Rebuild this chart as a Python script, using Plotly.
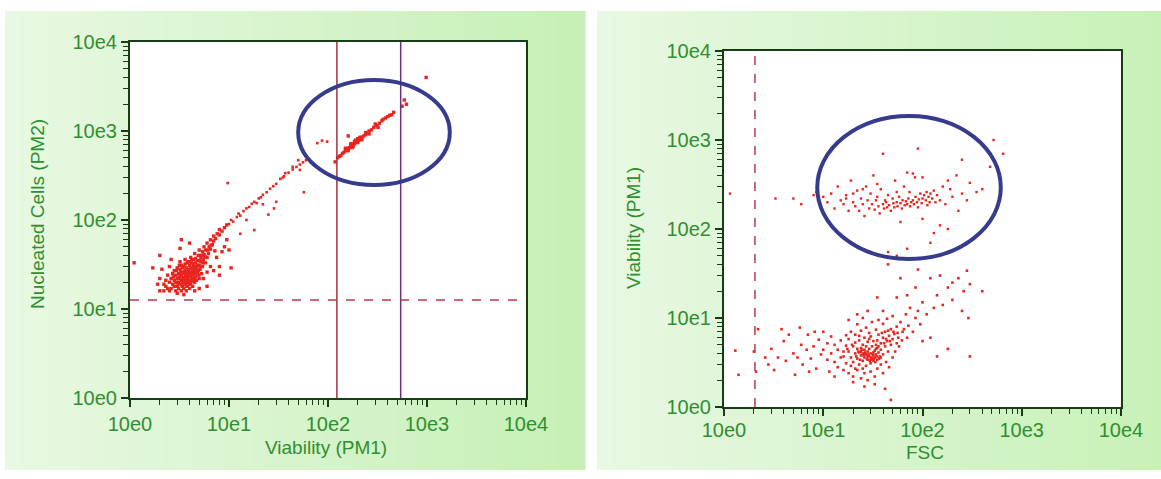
import plotly.graph_objects as go

# ---------------- data ----------------
tick_vals = [1, 10, 100, 1000, 10000]
tick_text = ["10e0", "10e1", "10e2", "10e3", "10e4"]
minor_vals = [m * 10 ** d for d in range(4) for m in range(2, 10)]

# Left panel: Viability (PM1) vs Nucleated Cells (PM2)
left_main = [
    (1.1, 33), (1.9, 19), (2.0, 22), (2.1, 28), (2.2, 16), (2.2, 19), (2.3, 18), (2.3, 21), (2.4, 17), (2.4, 24),
    (2.5, 20), (2.5, 16), (2.6, 17), (2.6, 22), (2.6, 36), (2.7, 19), (2.7, 25), (2.8, 18), (2.8, 21), (2.8, 27),
    (2.9, 16), (2.9, 20), (2.9, 24), (3.0, 15), (3.0, 18), (3.0, 22), (3.0, 29), (3.1, 17), (3.1, 20), (3.1, 25),
    (3.2, 19), (3.2, 22), (3.2, 28), (3.2, 34), (3.3, 16), (3.3, 21), (3.3, 24), (3.3, 31), (3.4, 18), (3.4, 20),
    (3.4, 26), (3.5, 17), (3.5, 22), (3.5, 25), (3.5, 30), (3.6, 19), (3.6, 21), (3.6, 27), (3.6, 36), (3.7, 16),
    (3.7, 20), (3.7, 23), (3.7, 29), (3.8, 18), (3.8, 22), (3.8, 25), (3.8, 33), (3.9, 20), (3.9, 24), (3.9, 28),
    (4.0, 17), (4.0, 21), (4.0, 26), (4.0, 31), (4.1, 19), (4.1, 23), (4.1, 29), (4.1, 38), (4.2, 21), (4.2, 25),
    (4.2, 33), (4.3, 18), (4.3, 22), (4.3, 27), (4.4, 24), (4.4, 30), (4.4, 36), (4.5, 20), (4.5, 26), (4.5, 42),
    (4.6, 23), (4.6, 28), (4.6, 33), (4.7, 21), (4.7, 30), (4.8, 25), (4.8, 35), (4.9, 27), (4.9, 40), (5.0, 22),
    (5.0, 31), (5.0, 46), (5.1, 28), (5.2, 34), (5.2, 38), (5.3, 25), (5.4, 30), (5.4, 44), (5.5, 36), (5.6, 41),
    (5.6, 50), (5.8, 33), (5.8, 46), (6.0, 38), (6.0, 55), (6.2, 42), (6.3, 50), (6.5, 47), (6.5, 60), (6.8, 53),
    (7.0, 58), (7.0, 66), (7.3, 62), (7.6, 70), (8.0, 68), (8.0, 78), (8.5, 75), (9.0, 82), (9.5, 88),
    (2.0, 40), (3.2, 48), (3.3, 60), (4.0, 55), (5.5, 22), (6.0, 26), (6.5, 30), (7.0, 27), (7.5, 38), (8.0, 30),
    (8.5, 44), (9.0, 50), (10.0, 46), (10.5, 29), (8.0, 24), (7.2, 45), (9.5, 60), (5.0, 17), (4.5, 16), (6.0, 18),
    (3.5, 14.5), (2.0, 16), (2.5, 30), (1.7, 29),
    (3.05, 19.5), (3.15, 23), (3.25, 26), (3.35, 18.5), (3.45, 22.5), (3.55, 20), (3.65, 24.5), (3.75, 18),
    (3.85, 21), (3.95, 26), (4.05, 23.5), (4.15, 20.5), (4.25, 28), (4.35, 24.5), (4.45, 21.5), (4.55, 30),
    (4.65, 25.5), (4.75, 27.5), (4.85, 31), (4.95, 24), (5.05, 35), (5.15, 30), (5.3, 40), (5.45, 33),
    (3.4, 29), (3.6, 32), (3.9, 34), (4.2, 36), (2.75, 23), (2.95, 27), (3.15, 31), (4.35, 32), (4.0, 19),
    (3.7, 26), (4.6, 37), (5.7, 39), (6.1, 46), (6.6, 52),
]
left_tail = [
    (10, 90), (10.5, 100), (11, 96), (12, 108), (12.5, 118), (13, 112), (14, 126), (15, 135), (16, 140), (17, 152),
    (18, 160), (19, 155), (20, 175), (21, 180), (22, 192), (24, 205), (26, 225), (28, 240), (30, 255), (33, 290),
    (36, 310), (40, 340), (44, 370), (48, 395), (52, 420), (56, 445), (60, 470),
    (18, 77), (25, 115), (28.5, 135), (30, 160), (57, 205), (9.7, 260), (35, 300), (44, 396), (50, 470), (52, 365),
    (37, 336), (78, 730), (87, 780), (98, 760), (13, 70), (15, 100), (22, 150),
]
left_gate = [
    (118, 450), (125, 500), (130, 520), (135, 530), (140, 560), (145, 575), (150, 600), (155, 610), (160, 640),
    (165, 650), (170, 680), (175, 690), (180, 710), (185, 720), (190, 745), (195, 760), (200, 780), (205, 790),
    (210, 800), (215, 830), (220, 850), (230, 880), (240, 910), (250, 950), (260, 1000), (275, 1030), (290, 1100),
    (310, 1150), (330, 1220), (350, 1300), (380, 1400), (420, 1500), (460, 1620),
    (150, 640), (160, 600), (170, 720), (180, 670), (190, 790), (200, 740), (210, 850), (185, 760), (175, 650),
    (200, 820), (220, 800), (240, 960), (260, 930), (300, 1200), (320, 1100), (360, 1350), (400, 1450), (440, 1520),
    (160, 880), (590, 2230), (620, 2000), (560, 1900), (980, 4000),
]

# Right panel: FSC vs Viability (PM1)
right_low = [
    (18, 4.2), (19, 3.6), (20, 4.8), (20, 3.2), (21, 4.0), (21, 5.3), (22, 3.5), (22, 4.5), (23, 3.0), (23, 4.1),
    (23, 5.6), (24, 3.8), (24, 4.6), (25, 3.3), (25, 4.0), (25, 5.0), (26, 3.6), (26, 4.4), (26, 6.0), (27, 2.9),
    (27, 3.9), (27, 4.8), (28, 3.4), (28, 4.2), (28, 5.4), (29, 3.7), (29, 4.5), (30, 3.1), (30, 4.0), (30, 6.2),
    (31, 3.5), (31, 4.8), (32, 3.8), (32, 3.3), (32, 5.5), (33, 4.3), (33, 3.6), (34, 3.9), (34, 5.0), (35, 3.4),
    (35, 4.6), (36, 6.5), (36, 4.1), (37, 3.7), (38, 5.2), (38, 4.4), (40, 3.9), (40, 6.0), (42, 4.8), (42, 7.0),
    (44, 5.5), (45, 4.2), (46, 6.3), (48, 5.0), (48, 7.5), (50, 5.8), (52, 6.6), (55, 5.2), (55, 8.0),
    (12, 4.0), (13, 3.2), (13, 5.0), (14, 4.4), (14, 2.8), (15, 3.6), (15, 5.6), (16, 4.2), (16, 2.6), (17, 3.1),
    (17, 4.9), (17, 6.4), (18, 2.4), (18, 5.8), (19, 2.9), (19, 7.0), (20, 2.2), (21, 6.5), (22, 2.6), (22, 8.5),
    (24, 2.1), (24, 7.2), (26, 2.4), (27, 7.8), (28, 2.0), (29, 6.8), (30, 2.5), (31, 9.0), (33, 2.2), (34, 7.4),
    (35, 2.7), (36, 9.5), (38, 3.0), (40, 2.4), (40, 8.6), (43, 3.2), (44, 9.8), (46, 2.8), (50, 3.6), (50, 10.5),
    (53, 4.2), (56, 6.8), (58, 4.8), (60, 9.0), (62, 5.6), (65, 7.5), (68, 11), (70, 6.0), (72, 8.2), (75, 13),
    (80, 7.0), (85, 10), (90, 12), (95, 8.5), (100, 15), (110, 11), (120, 6.0), (130, 13), (140, 18), (160, 14),
    (180, 22), (200, 16), (230, 28), (260, 20), (280, 34), (300, 24), (400, 20), (100, 5.5), (140, 3.7), (180, 4.5),
    (300, 3.7), (200, 25), (120, 28), (60, 28), (45, 40), (90, 35), (70, 18), (55, 17), (35, 17), (40, 12),
    (28, 12), (25, 10), (22, 11), (18, 9.5), (85, 22), (150, 30), (250, 12), (290, 10), (42, 1.6), (48, 1.2),
    (20, 1.9), (26, 1.7), (33, 1.8), (13, 2.2),
    (2.0, 4.2), (2.2, 7.5), (2.1, 2.5), (1.3, 4.3), (1.4, 2.3), (2.6, 3.6), (3.0, 4.5), (3.2, 2.6), (3.5, 3.6),
    (4.0, 5.5), (4.2, 3.3), (4.5, 6.5), (5.0, 4.0), (5.2, 2.3), (5.5, 3.6), (6.0, 5.0), (6.2, 3.0), (6.8, 4.4),
    (7.0, 6.5), (7.5, 3.5), (8.0, 4.8), (8.5, 2.7), (9.0, 5.7), (9.5, 3.9), (10, 4.4), (10, 7.0), (11, 3.4),
    (11, 5.2), (11.5, 2.5), (12, 6.2), (3.8, 7.5), (5.8, 7.8), (8.2, 7.0), (2.8, 3.0), (7.2, 2.5),
    (21.5, 3.7), (22.5, 4.2), (23.5, 3.4), (24.5, 4.4), (25.5, 3.8), (26.5, 4.1), (27.5, 3.5), (28.5, 3.9),
    (29.5, 3.3), (30.5, 3.6), (31.5, 3.9), (32.5, 3.5), (33.5, 3.2), (34.5, 3.7), (36.5, 3.5), (24, 4.2),
    (26, 3.9), (28, 3.7), (30, 3.4), (32, 4.1), (34, 4.5), (36, 4.8), (38, 3.6), (41, 5.2), (43, 5.8),
    (47, 5.5), (16, 3.7), (17.5, 4.5), (19.5, 5.0), (21, 2.7), (23, 6.3), (25, 2.7), (29, 5.8), (35, 5.6),
    (39, 6.8), (45, 7.2), (51, 7.0), (57, 6.0), (63, 7.0),
]
right_high = [
    (1.15, 250), (3.3, 220), (5, 220), (6, 190), (8, 240), (8.5, 260), (10, 230), (11, 200), (12, 250), (13, 170),
    (14, 300), (15, 210), (16, 190), (17, 240), (18, 160), (19, 350), (20, 200), (21, 180), (22, 270), (23, 160),
    (24, 220), (25, 190), (26, 140), (27, 300), (28, 210), (29, 170), (30, 250), (31, 190), (32, 400), (33, 165),
    (34, 210), (35, 230), (36, 180), (37, 150), (38, 280), (40, 190), (41, 170), (42, 210), (43, 200), (44, 175),
    (45, 240), (46, 185), (48, 160), (50, 220), (51, 195), (52, 175), (53, 350), (55, 200), (56, 180), (58, 230),
    (60, 195), (62, 170), (63, 210), (65, 300), (66, 185), (68, 205), (70, 190), (72, 220), (74, 260), (75, 180),
    (77, 200), (80, 210), (82, 190), (84, 380), (85, 230), (88, 200), (90, 175), (92, 215), (95, 250), (98, 195),
    (100, 220), (104, 240), (108, 210), (110, 260), (112, 185), (115, 230), (118, 200), (120, 250), (125, 220),
    (130, 270), (135, 200), (140, 240), (150, 210), (160, 300), (170, 190), (180, 350), (190, 280), (200, 230),
    (220, 400), (230, 160), (250, 250), (280, 210), (300, 330), (350, 260), (400, 280), (480, 500), (520, 1000),
    (250, 600), (90, 800), (40, 700), (70, 430), (60, 120), (100, 130), (130, 90), (150, 110), (180, 100), (70, 60),
    (55, 50), (45, 55), (120, 70), (80, 420), (100, 380), (55, 260), (35, 320), (25, 280), (20, 250), (17, 220),
    (650, 700),
]

# gates / markers
left_gate_lines = [123, 542]          # vertical gate lines (Viability)
left_threshold = 12.6                  # horizontal dashed threshold (PM2)
left_ellipse = (50, 1700, 247, 3740)   # x0, x1, y0, y1
right_threshold = 2.05                 # vertical dashed threshold (FSC)
right_ellipse = (8.7, 615, 46, 1860)

# ---------------- styling ----------------
W, H = 1161, 479
TXT = "#2f8f2f"
AX = "#173d17"
FONT = "Liberation Sans, Arial, sans-serif"
DOT = "#e8251e"

fig = go.Figure()


def add_points(pts, xa, ya, size):
    fig.add_trace(go.Scatter(
        x=[p[0] for p in pts], y=[p[1] for p in pts], mode="markers",
        xaxis=xa, yaxis=ya, hoverinfo="skip",
        marker=dict(color=DOT, size=size, symbol="square", line=dict(width=0)),
    ))


add_points(left_main, "x", "y", 3.4)
add_points(left_tail, "x", "y", 2.6)
add_points(left_gate, "x", "y", 3.4)
add_points(right_low, "x2", "y2", 2.6)
add_points(right_high, "x2", "y2", 2.4)

shapes = []


def gradient(px0, px1, py0, py1, c0, c1, n=40):
    for i in range(n):
        t = i / (n - 1)
        c = tuple(round(c0[k] + (c1[k] - c0[k]) * t) for k in range(3))
        a = px0 + (px1 - px0) * i / n
        b = px0 + (px1 - px0) * (i + 1) / n
        shapes.append(dict(type="rect", xref="paper", yref="paper", layer="below",
                           x0=a / W, x1=b / W + 0.0005, y0=1 - py1 / H, y1=1 - py0 / H,
                           line=dict(width=0), fillcolor="rgb(%d,%d,%d)" % c))


gradient(5, 585, 11, 470, (232, 248, 226), (198, 240, 182))
gradient(597, 1161, 11, 470, (232, 248, 226), (200, 241, 184))

for xr, yr in (("x", "y"), ("x2", "y2")):
    shapes.append(dict(type="rect", xref=xr + " domain", yref=yr + " domain", layer="below",
                       x0=0, x1=1, y0=0, y1=1, line=dict(width=0), fillcolor="white"))

shapes.append(dict(type="line", xref="x", yref="y domain", x0=left_gate_lines[0], x1=left_gate_lines[0],
                   y0=0, y1=1, line=dict(color="#a8303a", width=1.5)))
shapes.append(dict(type="line", xref="x", yref="y domain", x0=left_gate_lines[1], x1=left_gate_lines[1],
                   y0=0, y1=1, line=dict(color="#6a2f80", width=1.5)))
shapes.append(dict(type="line", xref="x domain", yref="y", x0=0, x1=1, y0=left_threshold, y1=left_threshold,
                   line=dict(color="#b83a48", width=1.5, dash="dash")))
shapes.append(dict(type="line", xref="x2", yref="y2 domain", x0=right_threshold, x1=right_threshold,
                   y0=0, y1=1, line=dict(color="#b83a48", width=1.5, dash="dash")))
for (xr, yr, e) in (("x", "y", left_ellipse), ("x2", "y2", right_ellipse)):
    shapes.append(dict(type="circle", xref=xr, yref=yr, x0=e[0], x1=e[1], y0=e[2], y1=e[3],
                       line=dict(color="#373b8e", width=4)))


def axis_style(domain, anchor, standoff=0):
    return dict(
        type="log", range=[0, 4], domain=domain, anchor=anchor, automargin=False,
        tickmode="array", tickvals=tick_vals, ticktext=tick_text,
        ticks="outside", ticklen=7, tickwidth=1.5, tickcolor=AX,
        minor=dict(tickmode="array", tickvals=minor_vals, ticks="outside", ticklen=5,
                   tickwidth=1, tickcolor=AX, showgrid=False),
        showline=True, linecolor=AX, linewidth=2, mirror=True,
        showgrid=False, zeroline=False, ticklabelstandoff=standoff,
        tickfont=dict(family=FONT, size=20, color=TXT),
    )


title_font = dict(family=FONT, size=19, color=TXT)
annotations = [
    dict(text="Viability (PM1)", x=326 / W, y=1 - 447 / H, xref="paper", yref="paper",
         showarrow=False, font=title_font, xanchor="center", yanchor="middle"),
    dict(text="Nucleated Cells (PM2)", x=37 / W, y=1 - 214 / H, xref="paper", yref="paper",
         showarrow=False, font=title_font, textangle=-90, xanchor="center", yanchor="middle"),
    dict(text="FSC", x=925 / W, y=1 - 452 / H, xref="paper", yref="paper",
         showarrow=False, font=title_font, xanchor="center", yanchor="middle"),
    dict(text="Viability (PM1)", x=634 / W, y=1 - 228 / H, xref="paper", yref="paper",
         showarrow=False, font=title_font, textangle=-90, xanchor="center", yanchor="middle"),
]

fig.update_layout(
    width=W, height=H, margin=dict(l=0, r=0, t=0, b=0, pad=0),
    paper_bgcolor="white", plot_bgcolor="white", showlegend=False,
    xaxis=axis_style([130 / W, 526 / W], "y"),
    yaxis=axis_style([1 - 398 / H, 1 - 42 / H], "x"),
    xaxis2=axis_style([724 / W, 1121 / W], "y2", -3),
    yaxis2=axis_style([1 - 407 / H, 1 - 51 / H], "x2"),
    shapes=shapes, annotations=annotations,
)

fig.write_html("out.html", config={"displayModeBar": False},
               post_script="document.body.style.margin='0';document.body.style.padding='0';")
